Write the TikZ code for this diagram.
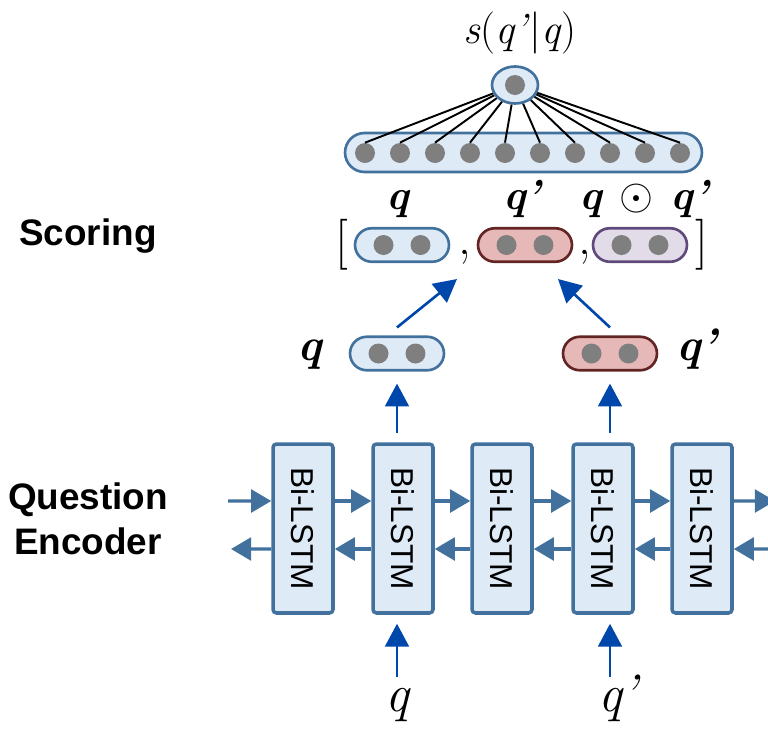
\documentclass[tikz,border=0pt]{standalone}
\usepackage{amsmath}
\usepackage{fontspec}
\newfontfamily\lsans{Liberation Sans}
\usetikzlibrary{arrows.meta,shapes.geometric}
\definecolor{lightblue}{HTML}{DEEBF7}
\definecolor{lstmblue}{HTML}{41719C}
\definecolor{redfill}{HTML}{E6B9B8}
\definecolor{redline}{HTML}{632523}
\definecolor{purplefill}{HTML}{E1DCE8}
\definecolor{purpleline}{HTML}{5F497A}
\definecolor{dotgray}{HTML}{7F7F7F}
\definecolor{arrowblue}{HTML}{0047AB}

\begin{document}
\begin{tikzpicture}[x=0.02cm,y=-0.02cm,
    lstm/.style={draw=lstmblue,fill=lightblue,line width=2pt,rounded corners=2pt,minimum width=1.2cm,minimum height=3.38cm,inner sep=0pt,font=\lsans\fontsize{18}{18}\selectfont},
    pill/.style={line width=1.5pt,rounded corners=0.335cm,minimum width=1.88cm,minimum height=0.67cm,inner sep=0pt},
    bar/.style={draw=lstmblue,fill=lightblue,line width=1.5pt,rounded corners=0.39cm,minimum width=7.14cm,minimum height=0.78cm,inner sep=0pt},
    dot/.style={circle,fill=dotgray,minimum size=0.4cm,inner sep=0pt},
    flow/.style={draw=lstmblue,line width=1.9pt,-{Triangle[length=11.5pt,width=13pt]}},
    up/.style={draw=arrowblue,line width=1.5pt,-{Triangle[length=13pt,width=13.5pt]}},
    side/.style={font=\lsans\bfseries\fontsize{21}{25.5}\selectfont,align=center},
    inlbl/.style={inner sep=0pt,text height=12.9pt,text depth=5.8pt,font=\itshape\fontsize{30}{30}\selectfont},
    veclbl/.style={inner sep=0pt,text height=11.5pt,text depth=5pt,font=\bfseries\itshape\fontsize{26}{26}\selectfont},
    catlbl/.style={inner sep=0pt,text height=10.7pt,text depth=4.7pt,font=\bfseries\itshape\fontsize{24}{24}\selectfont},
    brk/.style={inner sep=0pt,font=\fontsize{29}{29}\selectfont}]
    \useasboundingbox (0,0) rectangle (768,731);

    \node[side] (scoring) at (88,236) {Scoring};
    \node[side] (encoder) at (88,519) {Question\\Encoder};

    \foreach \i/\x in {1/303,2/403,3/502,4/603,5/702}
        \node[lstm] (lstm\i) at (\x,528.5) {\rotatebox{-90}{Bi-LSTM}};
    \foreach \i/\j in {1/2,2/3,3/4,4/5} {
        \draw[flow] ([yshift=0.55cm]lstm\i.east) -- ([yshift=0.55cm]lstm\j.west);
        \draw[flow] ([yshift=-0.41cm]lstm\j.west) -- ([yshift=-0.41cm]lstm\i.east);
    }
    \coordinate (inL) at (228,501);
    \coordinate (outL) at (231,549);
    \coordinate (outR) at (775,501);
    \coordinate (inR) at (785,549);
    \draw[flow] (inL) -- ([yshift=0.55cm]lstm1.west);
    \draw[flow] ([yshift=-0.41cm]lstm1.west) -- (outL);
    \draw[flow] ([yshift=0.55cm]lstm5.east) -- (outR);
    \draw[flow] (inR) -- ([yshift=-0.41cm]lstm5.east);

    \node[inlbl] (qin) at (397,705) {q};
    \node[inlbl] (qpin) at (610,705) {q\rlap{’}};
    \draw[up,shorten <=0.23cm,shorten >=0.18cm] (qin.north) -- (qin.north |- lstm2.south);
    \draw[up,shorten <=0.23cm,shorten >=0.18cm] (qpin.north) -- (qpin.north |- lstm4.south);

    \node[pill,fill=lightblue,draw=lstmblue] (qv) at (397,353.5) {};
    \node[pill,fill=redfill,draw=redline] (qpv) at (610,353.5) {};
    \foreach \n in {qv,qpv} {
        \node[dot,xshift=-0.37cm] (\n-l) at (\n) {};
        \node[dot,xshift=0.37cm] (\n-r) at (\n) {};
    }
    \node[veclbl] (qvl) at (310,355) {q};
    \node[veclbl,anchor=west] (qpvl) at (676,355) {q’};
    \draw[up,shorten <=0.18cm,shorten >=0.24cm] (qv.south |- lstm2.north) -- (qv.south);
    \draw[up,shorten <=0.18cm,shorten >=0.24cm] (qpv.south |- lstm4.north) -- (qpv.south);

    \foreach \n/\x/\f/\d in {bq/402/lightblue/lstmblue,bqp/525/redfill/redline,bqq/640/purplefill/purpleline} {
        \node[pill,fill=\f,draw=\d] (\n) at (\x,245) {};
        \node[dot,xshift=-0.37cm] (\n-l) at (\n) {};
        \node[dot,xshift=0.37cm] (\n-r) at (\n) {};
    }
    \node[brk] (lb) at (342,245) {[};
    \node[brk] (rb) at (702,245) {]};
    \node[brk] (c1) at (465,257) {,};
    \node[brk] (c2) at (585,257) {,};
    \node[catlbl] (bql) at (398,204) {q};
    \node[catlbl] (bqpl) at (522,204) {q’};
    \node[catlbl] (bqql) at (644,204) {q $\odot$ q’};
    \coordinate (tq) at (457,279);
    \coordinate (tqp) at (558,279);
    \draw[up] ([yshift=0.16cm]qv.north) -- (tq);
    \draw[up] ([yshift=0.16cm]qpv.north) -- (tqp);

    \node[bar] (bar) at (523.5,152.5) {};
    \foreach \i in {1,...,10}
        \node[dot] (d\i) at ({330+35*\i},153) {};
    \node[ellipse,draw=lstmblue,fill=lightblue,line width=1.5pt,minimum width=0.92cm,minimum height=0.74cm,inner sep=0pt] (top) at (515,85) {};
    \node[dot] (topd) at (top) {};
    \foreach \i in {1,...,10}
        \draw[line width=1.1pt] (top) -- (d\i.north);
    \node[font=\fontsize{24}{24}\selectfont] (score) at (520,33) {\textit{s}(\textit{q’}|\textit{q})};
\end{tikzpicture}
\end{document}
